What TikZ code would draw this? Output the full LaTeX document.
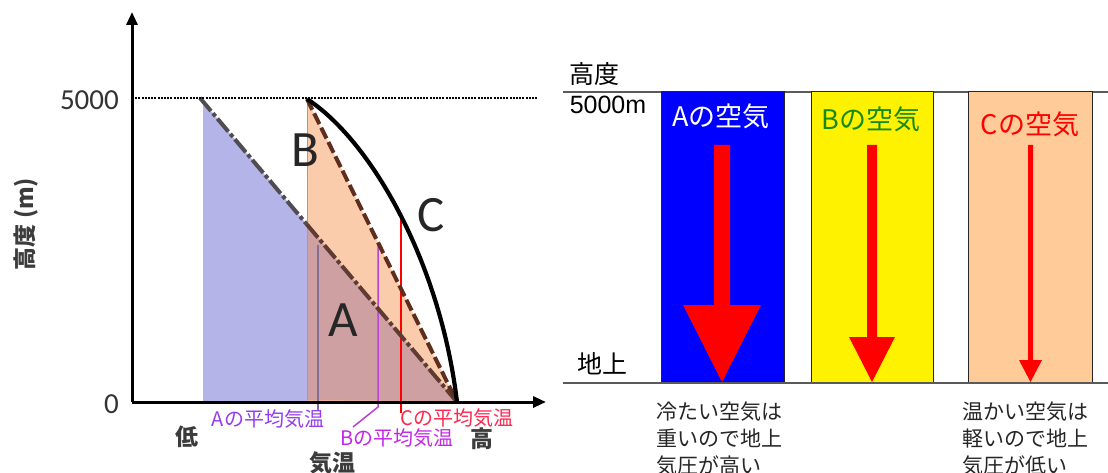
\documentclass[tikz,border=0pt]{standalone}
\usepackage{fontspec}
\setmainfont{Noto Sans CJK JP}
\newfontfamily\carl{Carlito}
\newfontfamily\lib{Liberation Sans}
\usetikzlibrary{arrows.meta}
\definecolor{fillblue}{RGB}{180,180,232}
\definecolor{fillorange}{RGB}{250,204,172}
\definecolor{fillbrown}{RGB}{207,160,162}
\definecolor{edgesalmon}{RGB}{236,130,110}
\definecolor{lineA}{RGB}{80,76,80}
\definecolor{lineAlow}{RGB}{95,60,50}
\definecolor{lineB}{RGB}{95,45,30}
\definecolor{labA}{RGB}{150,60,240}
\definecolor{labB}{RGB}{195,40,230}
\definecolor{labC}{RGB}{255,40,80}
\definecolor{meanA}{RGB}{130,110,150}
\definecolor{meanB}{RGB}{185,70,210}
\definecolor{axtxt}{RGB}{60,60,60}
\definecolor{peach}{RGB}{255,204,153}
\definecolor{darkgreen}{RGB}{20,140,20}
\definecolor{rule}{RGB}{90,90,90}
\tikzset{
  axis/.style={line width=3pt, black},
  biglab/.style={font=\carl\fontsize{51}{51}\selectfont, text=black!85},
  tick/.style={font=\carl\fontsize{29}{29}\selectfont, text=black!80},
  axlab/.style={font=\bfseries\fontsize{23}{23}\selectfont, text=axtxt, inner sep=0pt},
  meanlab/.style={font=\fontsize{20}{20}\selectfont, inner sep=0pt},
  airbox/.style={draw=black!85, line width=1pt},
  airlab/.style={font=\fontsize{27}{27}\selectfont, inner sep=0pt},
  rtext/.style={font=\fontsize{25}{25}\selectfont, inner sep=0pt},
  note/.style={font=\fontsize{21}{27}\selectfont, align=left, anchor=north west, inner sep=0pt, text=black!85},
  redarrow/.style={fill=red, draw=none}
}
\begin{document}
\begin{tikzpicture}[x=1pt,y=-1pt]
\useasboundingbox (0,0) rectangle (1108,473);
\clip (0,0) rectangle (1108,473);
% ---------------- left panel ----------------
\coordinate (Atop) at (200,98);
\coordinate (Btop) at (307,99);
\coordinate (bot) at (457,402);
\coordinate (cross) at (307,224.6);
% fills
\fill[fillblue] (203,101.5) -- (203,402) -- (307,402) -- (cross) -- cycle;
\fill[fillorange] (Btop) -- (bot) -- (307,402) -- cycle;
\fill[fillbrown] (cross) -- (bot) -- (307,402) -- cycle;
\draw[edgesalmon, line width=1pt] (Btop) -- (307,402);
\draw[fillorange!80!orange, line width=1.5pt] (307,401) -- (bot);
% mean lines
\coordinate (mAt) at (318,245);
\coordinate (mAb) at (318,411);
\coordinate (mBt) at (378,245);
\coordinate (mBb) at (378,407);
\coordinate (mBe) at (353,427);
\coordinate (mCt) at (401,215);
\coordinate (mCb) at (401,413);
\draw[meanA, line width=1.2pt] (mAt) -- (mAb);
\draw[meanB, line width=1.5pt] (mBt) -- (mBb) -- (mBe);
\draw[red, line width=1.5pt] (mCt) -- (mCb);
% profile lines
\draw[lineA, line width=4pt, dash pattern=on 17pt off 3pt on 4pt off 3pt] (Atop) -- (cross);
\draw[lineAlow, line width=4pt, dash pattern=on 17pt off 3pt on 4pt off 3pt] (cross) -- (bot);
\draw[lineB, line width=4pt, dash pattern=on 12pt off 4pt] (Btop) -- (bot);
\draw[black, line width=4.2pt] (Btop) .. controls (370,140) and (440,260) .. (bot);
% axes
\draw[black, line width=1.6pt, dash pattern=on 2pt off 1.2pt] (132,98) -- (538,98);
\coordinate (origin) at (132,402);
\coordinate (ytip) at (132,12);
\coordinate (xtip) at (546,402);
\draw[axis, -{Triangle[length=13pt,width=11pt]}] (origin) -- (ytip);
\draw[axis, -{Triangle[length=13pt,width=11pt]}] (origin) -- (xtip);
% labels
\node[tick, anchor=east, inner sep=0pt] (t5000) at (119,100) {5000};
\node[tick, anchor=east, inner sep=0pt] (t0) at (119,404) {0};
\node[axlab, rotate=90] (ylab) at (26,224) {高度 (m)};
\node[axlab] (low) at (187,437) {低};
\node[axlab] (high) at (482,439) {高};
\node[axlab] (xlab) at (332,463) {気温};
\node[biglab] (labA) at (343,320) {A};
\node[biglab] (labB) at (305,150) {B};
\node[biglab] (labC) at (431,215) {C};
\node[meanlab, text=labA] (meanAlab) at (268,419) {Aの平均気温};
\node[meanlab, text=labB] (meanBlab) at (397,438) {Bの平均気温};
\node[meanlab, text=labC] (meanClab) at (457,418) {Cの平均気温};
% ---------------- right panel ----------------
\draw[rule, line width=1.2pt] (563,92) -- (1108,92);
\draw[airbox, fill=blue] (661,92) rectangle (784,383);
\draw[airbox, fill=yellow] (811,92) rectangle (933,383);
\draw[airbox, fill=peach] (968,92) rectangle (1092,383);
\draw[rule, line width=1.2pt] (563,383) -- (1108,383);
% arrows
\fill[redarrow] (714,145) -- (730,145) -- (730,305) -- (761,305) -- (722,382) -- (683,305) -- (714,305) -- cycle;
\fill[redarrow] (867,145) -- (877,145) -- (877,337) -- (895,337) -- (872,382) -- (849,337) -- (867,337) -- cycle;
\fill[redarrow] (1028,145) -- (1033,145) -- (1033,360) -- (1042,360) -- (1030.5,382) -- (1019,360) -- (1028,360) -- cycle;
% texts
\node[rtext] (hdr) at (594,74) {高度};
\node[rtext, font=\lib\fontsize{25}{25}\selectfont] (top5000) at (608,105) {5000m};
\node[rtext] (ground) at (602,364) {地上};
\node[airlab, text=white] (airA) at (721,116) {Aの空気};
\node[airlab, text=darkgreen] (airB) at (871,119) {Bの空気};
\node[airlab, text=red] (airC) at (1030,124) {Cの空気};
\node[note] (noteA) at (656,402) {冷たい空気は\\重いので地上\\気圧が高い};
\node[note] (noteC) at (962,402) {温かい空気は\\軽いので地上\\気圧が低い};
\end{tikzpicture}
\end{document}
